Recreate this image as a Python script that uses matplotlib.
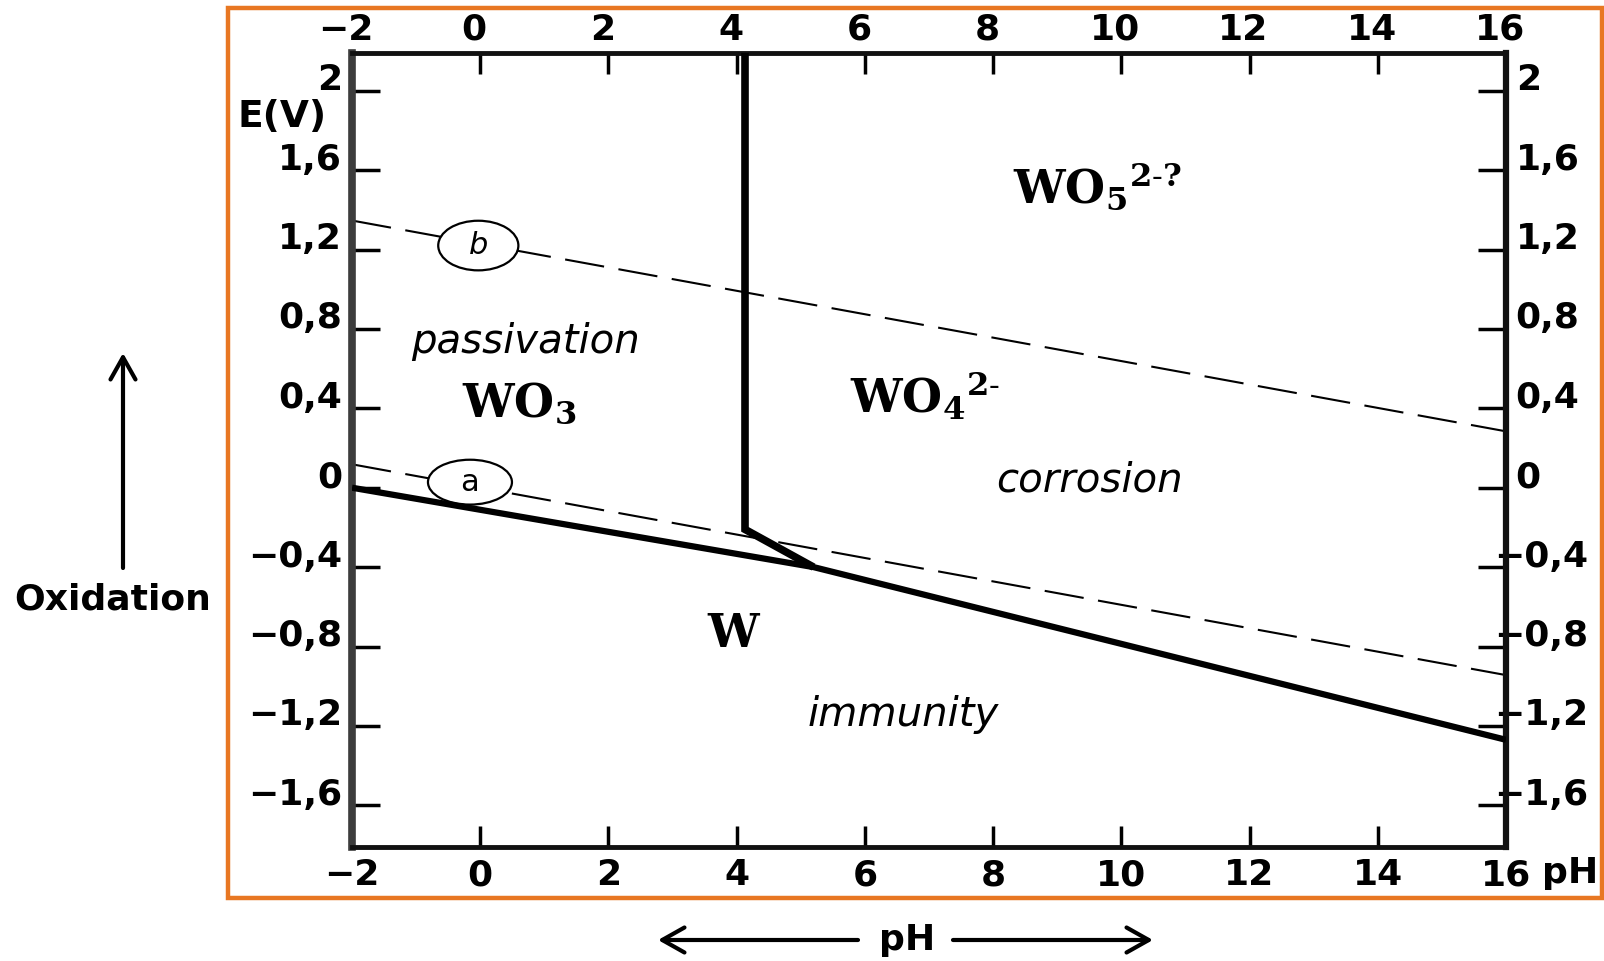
import matplotlib.pyplot as plt
from matplotlib.patches import Ellipse, Rectangle, FancyArrowPatch
from matplotlib.transforms import ScaledTranslation

# Pourbaix diagram of tungsten
ph_solid = [-2.0, 5.2, 16.0]
e_solid = [0.0, -0.40, -1.27]
ph_vertical = [4.13, 4.13, 5.2]
e_vertical = [2.19, -0.21, -0.40]
ph_water = [-2.0, 16.0]
e_water_a = [0.118, -0.944]
e_water_b = [1.346, 0.284]

ph_ticks = [-2, 0, 2, 4, 6, 8, 10, 12, 14, 16]
ph_labels = ['\u22122', '0', '2', '4', '6', '8', '10', '12', '14', '16']
e_ticks = [2, 1.6, 1.2, 0.8, 0.4, 0, -0.4, -0.8, -1.2, -1.6]
e_labels = ['2', '1,6', '1,2', '0,8', '0,4', '0',
            '\u22120,4', '\u22120,8', '\u22121,2', '\u22121,6']

plt.rcParams['mathtext.fontset'] = 'dejavuserif'

W, H = 1604, 961
fig = plt.figure(figsize=(W / 100, H / 100), dpi=100, facecolor='white')
ax = fig.add_axes([352 / W, 1 - 847 / H, (1506 - 352) / W, (847 - 53) / H])
ax.set_xlim(-2, 16)
ax.set_ylim(-1.81, 2.19)

# water lines a and b
dash = (0, (19, 7))
ax.plot(ph_water, e_water_a, color='black', lw=1.5, linestyle=dash, zorder=2)
ax.plot(ph_water, e_water_b, color='black', lw=1.5, linestyle=dash, zorder=2)

# domain boundaries
ax.plot(ph_solid, e_solid, color='black', lw=4.5, solid_capstyle='butt', zorder=4)
ax.plot(ph_vertical, e_vertical, color='black', lw=5.5, solid_capstyle='butt',
        solid_joinstyle='miter', zorder=4)

# circled labels on the water lines
for (cx, cy, w, h, letter, style) in [(-0.16, 0.028, 1.31, 0.226, 'a', 'normal'),
                                      (-0.03, 1.22, 1.25, 0.25, 'b', 'italic')]:
    ax.add_patch(Ellipse((cx, cy), w, h, facecolor='white', edgecolor='black',
                         lw=1.6, zorder=3))
    ax.text(cx, cy, letter, ha='center', va='center', fontsize=22,
            style=style, zorder=5)

# region labels
serif = dict(family='DejaVu Serif', weight='bold', fontsize=33, va='baseline', ha='left')
ax.text(-0.28, 0.355, r'WO$_\mathbf{3}$', **serif)
ax.text(5.77, 0.375, r'WO$_\mathbf{4}{}^{\mathbf{2}\text{-}}$', **serif)
ax.text(8.31, 1.436, r'WO$_\mathbf{5}{}^{\mathbf{2}\text{-}\mathbf{?}}$', **serif)
serif['ha'] = 'center'
ax.text(3.94, -0.80, 'W', **serif)

ital = dict(family='DejaVu Sans', style='oblique', fontsize=29, ha='center', va='baseline')
ax.text(0.70, 0.677, 'passivation', **ital)
ax.text(9.51, -0.02, 'corrosion', **ital)
ax.text(6.6, -1.20, 'immunity', **ital)

# axes styling
for side in ['top', 'bottom', 'right']:
    ax.spines[side].set_linewidth(3.5)
    ax.spines[side].set_color('#111111')
ax.spines['left'].set_linewidth(5.5)
ax.spines['left'].set_color('#3c3c3c')
ax.spines['right'].set_linewidth(4.5)

ax.set_xticks(ph_ticks)
ax.set_xticklabels(ph_labels)
ax.set_yticks(e_ticks)
ax.set_yticklabels(e_labels)
ax.tick_params(axis='x', direction='in', length=15, width=2.5, pad=8,
               top=True, labeltop=True, labelsize=26)
ax.tick_params(axis='y', direction='in', length=20, width=2.5, pad=7,
               right=True, labelright=True, labelsize=26)
for lab in ax.get_xticklabels() + ax.get_yticklabels():
    lab.set_fontweight('bold')

# labels in the scan sit a little above their ticks
up = ScaledTranslation(0, 0.14, fig.dpi_scale_trans)
for tick, val in zip(ax.yaxis.get_major_ticks(), e_ticks):
    tick.label1.set_transform(tick.label1.get_transform() + up)
    shift = up
    if val < 0:
        shift = ScaledTranslation(-0.22, 0.14, fig.dpi_scale_trans)
    tick.label2.set_transform(tick.label2.get_transform() + shift)
    tick.label2.set_fontweight('bold')
for tick in ax.xaxis.get_major_ticks():
    tick.label2.set_fontweight('bold')
    tick.label2.set_transform(tick.label2.get_transform()
                              + ScaledTranslation(-0.06, -0.05, fig.dpi_scale_trans))

fig.text(282 / W, 1 - 117 / H, 'E(V)', ha='center', va='center',
         fontsize=27, fontweight='bold')
fig.text(1542 / W, 1 - 873 / H, 'pH', ha='left', va='center',
         fontsize=26, fontweight='bold')

# orange frame around the diagram
fig.patches.append(Rectangle((228 / W, 1 - 898 / H), (1602 - 228) / W, (898 - 8) / H,
                             transform=fig.transFigure, fill=False,
                             edgecolor='#E87722', lw=3.2))

# outer annotations
fig.text(113 / W, 1 - 600 / H, 'Oxidation', ha='center', va='center',
         fontsize=26, fontweight='bold')
fig.text(907 / W, 1 - 940 / H, 'pH', ha='center', va='center',
         fontsize=26, fontweight='bold')
arrow_style = '->,head_length=0.8,head_width=0.45'
for start, end in [((123, 568), (123, 353)),
                   ((858, 940), (658, 940)),
                   ((953, 940), (1153, 940))]:
    fig.patches.append(FancyArrowPatch((start[0] / W, 1 - start[1] / H),
                                       (end[0] / W, 1 - end[1] / H),
                                       transform=fig.transFigure,
                                       arrowstyle=arrow_style, mutation_scale=20,
                                       lw=3, color='black', shrinkA=0, shrinkB=0))

fig.savefig('out.png', dpi=100, facecolor='white')
